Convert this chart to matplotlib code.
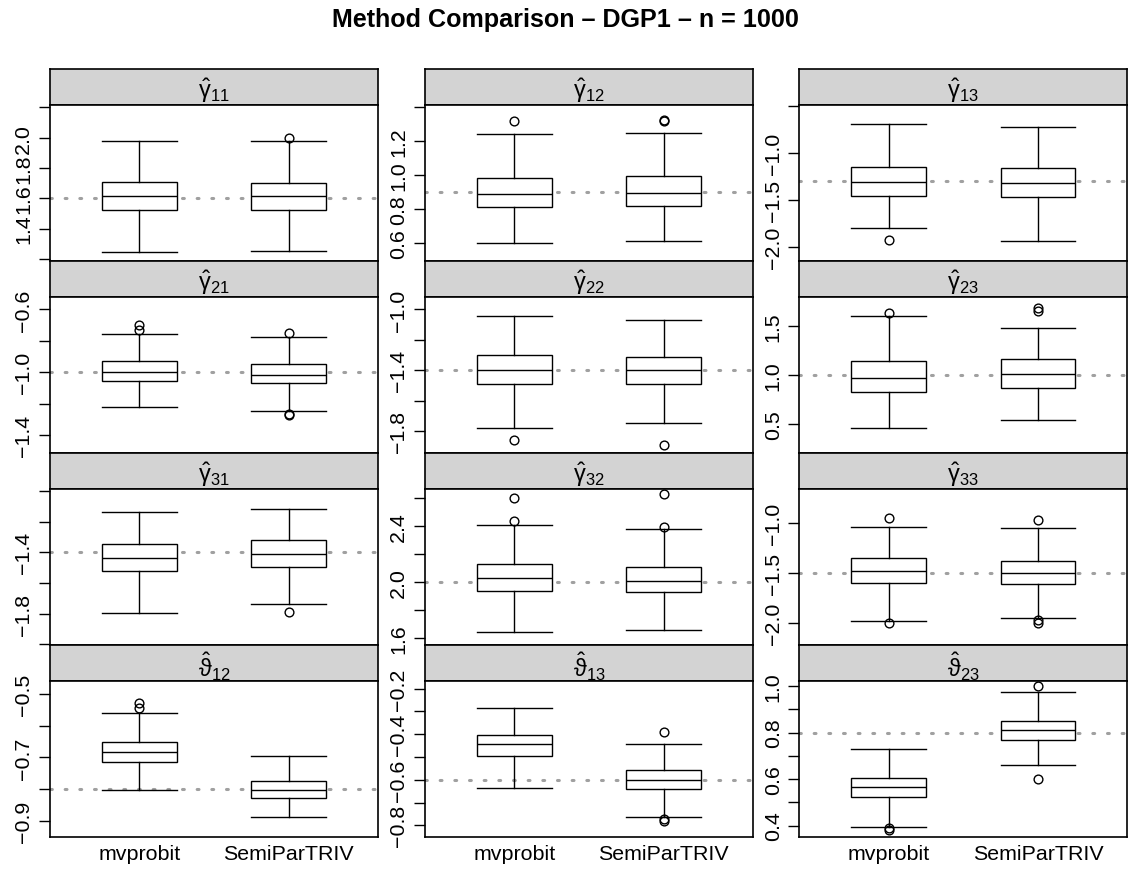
import numpy as np
import matplotlib
matplotlib.use("Agg")
import matplotlib.pyplot as plt

plt.rcParams['font.family'] = ['Liberation Sans', 'DejaVu Sans']
plt.rcParams['mathtext.fontset'] = 'custom'
plt.rcParams['mathtext.rm'] = 'Liberation Sans'
plt.rcParams['mathtext.it'] = 'Liberation Sans'

methods = ["mvprobit", "SemiParTRIV"]

# panels in row order: gamma11 .. gamma33, then theta12, theta13, theta23
params = [r"$\hat{\gamma}_{11}$", r"$\hat{\gamma}_{12}$", r"$\hat{\gamma}_{13}$",
          r"$\hat{\gamma}_{21}$", r"$\hat{\gamma}_{22}$", r"$\hat{\gamma}_{23}$",
          r"$\hat{\gamma}_{31}$", r"$\hat{\gamma}_{32}$", r"$\hat{\gamma}_{33}$",
          r"$\hat{\vartheta}_{12}$", r"$\hat{\vartheta}_{13}$", r"$\hat{\vartheta}_{23}$"]
true_vals = [1.6, 0.9, -1.3, -1.0, -1.4, 1.0, -1.4, 2.0, -1.5, -0.8, -0.6, 0.8]

# boxplot summaries, one (mvprobit, SemiParTRIV) pair per panel
whisk_lo = [(1.244, 1.253), (0.601, 0.609), (-1.802, -1.939),
            (-1.225, -1.249), (-1.782, -1.747), (0.459, 0.534),
            (-1.797, -1.738), (1.641, 1.656), (-1.988, -1.950),
            (-0.802, -0.887), (-0.638, -0.763), (0.394, 0.661)]
q1 = [(1.521, 1.521), (0.812, 0.816), (-1.458, -1.468),
      (-1.055, -1.070), (-1.492, -1.492), (0.822, 0.870),
      (-1.525, -1.497), (1.937, 1.930), (-1.602, -1.613),
      (-0.714, -0.828), (-0.497, -0.641), (0.521, 0.767)]
med = [(1.613, 1.613), (0.887, 0.894), (-1.310, -1.316),
       (-0.996, -1.015), (-1.400, -1.396), (0.969, 1.007),
       (-1.436, -1.413), (2.029, 2.010), (-1.480, -1.504),
       (-0.683, -0.804), (-0.444, -0.600), (0.566, 0.810)]
q3 = [(1.705, 1.703), (0.984, 0.996), (-1.147, -1.158),
      (-0.930, -0.951), (-1.299, -1.313), (1.137, 1.164),
      (-1.345, -1.321), (2.131, 2.112), (-1.351, -1.377),
      (-0.651, -0.773), (-0.403, -0.556), (0.604, 0.852)]
whisk_hi = [(1.980, 1.976), (1.239, 1.245), (-0.697, -0.729),
            (-0.759, -0.774), (-1.045, -1.071), (1.599, 1.476),
            (-1.139, -1.120), (2.413, 2.379), (-1.039, -1.050),
            (-0.560, -0.695), (-0.285, -0.444), (0.728, 0.976)]
outliers = [([], [1.996]), ([1.318], [1.316, 1.320]), ([-1.929], []),
            ([-0.700, -0.732], [-0.753, -1.264, -1.275]), ([-1.859], [-1.891]),
            ([1.630], [1.658, 1.685]),
            ([], [-1.791]), ([2.437, 2.607], [2.398, 2.629]),
            ([-0.951, -2.005], [-0.972, -1.978, -2.005]),
            ([-0.530, -0.544], []), ([], [-0.391, -0.773, -0.782]),
            ([0.381, 0.389], [0.600, 1.000])]

# axis ranges and ticks (labels only on some ticks)
ylims = [(1.187, 2.215), (0.494, 1.410), (-2.148, -0.49),
         (-1.515, -0.521), (-1.943, -0.918), (0.199, 1.798),
         (-2.005, -0.987), (1.551, 2.668), (-2.225, -0.656),
         (-0.9505, -0.460), (-0.8516, -0.166), (0.351, 1.022)]
yticks = [[1.2, 1.4, 1.6, 1.8, 2.0, 2.2], [0.6, 0.8, 1.0, 1.2, 1.4], [-2.0, -1.5, -1.0, -0.5],
          [-1.4, -1.2, -1.0, -0.8, -0.6], [-1.8, -1.6, -1.4, -1.2, -1.0], [0.5, 1.0, 1.5],
          [-2.0, -1.8, -1.6, -1.4, -1.2, -1.0], [1.6, 1.8, 2.0, 2.2, 2.4, 2.6], [-2.0, -1.5, -1.0],
          [-0.9, -0.8, -0.7, -0.6, -0.5], [-0.8, -0.7, -0.6, -0.5, -0.4, -0.3, -0.2],
          [0.4, 0.5, 0.6, 0.7, 0.8, 0.9, 1.0]]
ylabeled = [[1.4, 1.6, 1.8, 2.0], [0.6, 0.8, 1.0, 1.2], [-2.0, -1.5, -1.0],
            [-1.4, -1.0, -0.6], [-1.8, -1.4, -1.0], [0.5, 1.0, 1.5],
            [-1.8, -1.4], [1.6, 2.0, 2.4], [-2.0, -1.5, -1.0],
            [-0.9, -0.7, -0.5], [-0.8, -0.6, -0.4, -0.2], [0.4, 0.6, 0.8, 1.0]]

W, H = 1130, 870
fig = plt.figure(figsize=(W / 100, H / 100), dpi=100)

col_left = [50, 425, 799.3]
panel_w = 328
row_top = [70, 262, 454, 646]
strip_h = 36
body_h = 156

fig.text(565.8 / W, 1 - 20 / H, "Method Comparison – DGP1 – n = 1000",
         ha='center', va='center', fontsize=18.1, fontweight='bold')


def fmt(v):
    return f"{v:.1f}".replace("-", "\u2212")


for k in range(12):
    r, c = divmod(k, 3)
    x0 = col_left[c] / W
    w = panel_w / W
    top = row_top[r]

    # header strip
    sax = fig.add_axes([x0, 1 - (top + strip_h) / H, w, strip_h / H])
    sax.set_facecolor('#d3d3d3')
    sax.set_xticks([])
    sax.set_yticks([])
    for sp in sax.spines.values():
        sp.set_linewidth(1.2)
    sax.text(0.5, 0.42, params[k], ha='center', va='center', fontsize=17,
             transform=sax.transAxes)

    # box panel
    ax = fig.add_axes([x0, 1 - (top + strip_h + body_h) / H, w, body_h / H])
    stats = []
    for j in range(2):
        stats.append(dict(med=med[k][j], q1=q1[k][j], q3=q3[k][j],
                          whislo=whisk_lo[k][j], whishi=whisk_hi[k][j],
                          fliers=outliers[k][j]))
    lw = 1.0
    ax.bxp(stats, positions=[1, 2], widths=0.5, capwidths=0.5, showfliers=True,
           patch_artist=True,
           boxprops=dict(facecolor='white', edgecolor='black', linewidth=lw),
           medianprops=dict(color='black', linewidth=lw),
           whiskerprops=dict(color='black', linewidth=lw, linestyle='-'),
           capprops=dict(color='black', linewidth=lw),
           flierprops=dict(marker='o', markerfacecolor='none', markeredgecolor='black',
                           markersize=6.3, markeredgewidth=1.0))
    ax.axhline(true_vals[k], color='#a0a0a0', linewidth=2.2,
               linestyle=(0, (0.6, 4.2)), dash_capstyle='round', zorder=0.5)
    ax.set_xlim(0.403, 2.597)
    ax.set_ylim(*ylims[k])
    ax.set_yticks(yticks[k])
    ax.set_yticklabels([fmt(t) if any(abs(t - l) < 1e-9 for l in ylabeled[k]) else ""
                        for t in yticks[k]],
                       rotation=90, va='center', fontsize=15.4)
    ax.tick_params(axis='y', length=7.7, width=1.0, pad=4.3)
    if r == 3:
        ax.set_xticks([1, 2])
        ax.set_xticklabels(methods, fontsize=15.4)
        ax.tick_params(axis='x', length=0, pad=5)
    else:
        ax.set_xticks([])
    for sp in ax.spines.values():
        sp.set_linewidth(1.2)

fig.savefig("out.png", dpi=100)
